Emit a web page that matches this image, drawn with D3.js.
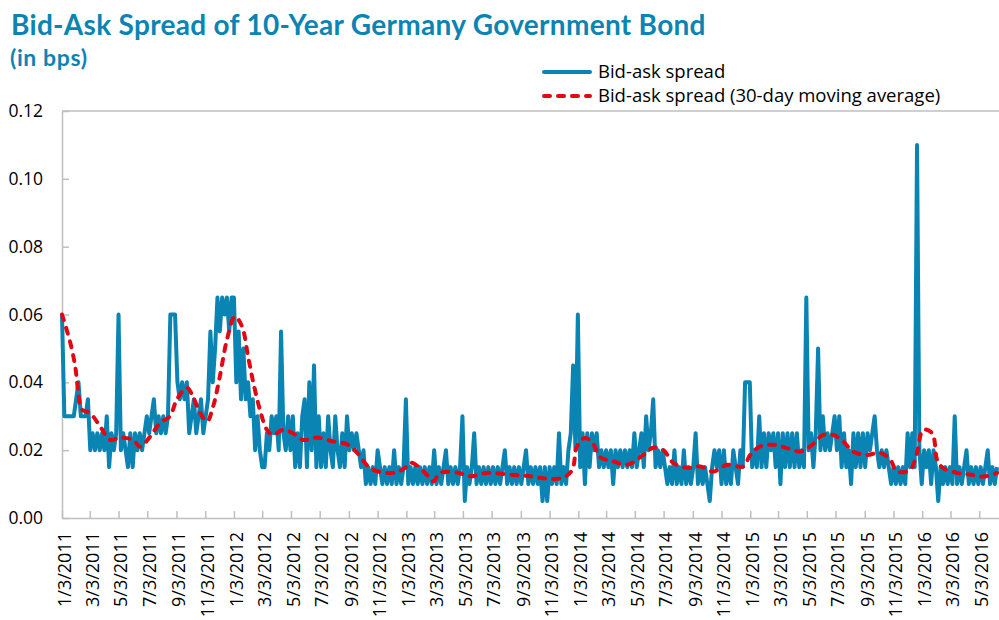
<html lang="en">
<head>
<meta charset="UTF-8">
<title>Bid-Ask Spread of 10-Year Germany Government Bond</title>
<script src="https://d3js.org/d3.v7.min.js"></script>
<style>
  body { margin: 0; background: #fff; }
  svg { display: block; }
  .title { font-family: Lato, "Open Sans", sans-serif; font-weight: bold; fill: #0b84b3; }
  .tick text, .legend text { font-family: "Open Sans", "Noto Sans", sans-serif; fill: #000; }
</style>
</head>
<body>
<svg width="999" height="620"></svg>
<script>
// daily bid-ask spread, sampled every 5 calendar days from 1/3/2011
const spreadStart = "2011-01-03";
const spreadStep = 5;
const spread2011 = [.06, .03, .03, .03, .03, .03, .035, .04, .03, .03, .03, .035, .02, .025, .02, .025, .02, .025, .02, .03,
  .015, .025, .02, .025, .06, .02, .025, .02, .015, .025, .015, .025, .02, .025, .02, .025, .03, .025, .03, .035,
  .025, .03, .025, .03, .025, .03, .06, .06, .06, .04, .035, .04, .035, .04, .025, .03, .035, .025, .03, .035,
  .025, .03, .035, .055, .04, .05, .065, .055, .065, .06, .065, .055, .065];
const spread2012 = [.065, .04, .055, .035, .05, .035, .04, .03, .035, .02, .03, .02, .015, .015, .025, .02, .03, .025, .03, .02,
  .055, .025, .02, .03, .02, .03, .015, .025, .015, .03, .035, .015, .04, .02, .045, .015, .03, .015, .025, .015,
  .03, .02, .015, .03, .02, .015, .025, .015, .03, .02, .025, .02, .025, .02, .015, .02, .01, .015, .01, .015,
  .01, .02, .015, .01, .015, .01, .015, .01, .02, .01, .015, .01, .015];
const spread2013 = [.035, .01, .015, .01, .015, .01, .015, .01, .015, .01, .015, .01, .02, .01, .015, .01, .015, .02, .01, .015,
  .01, .015, .01, .015, .03, .005, .015, .01, .015, .025, .01, .015, .01, .015, .01, .015, .01, .015, .01, .015,
  .01, .015, .02, .01, .015, .01, .015, .01, .015, .01, .015, .02, .01, .015, .01, .015, .01, .015, .005, .015,
  .005, .015, .01, .015, .01, .025, .01, .015, .01, .02, .025, .045, .02];
const spread2014 = [.06, .015, .025, .01, .025, .015, .025, .02, .025, .015, .02, .015, .02, .015, .02, .01, .02, .015, .02, .015,
  .02, .015, .02, .015, .025, .015, .02, .025, .015, .03, .02, .025, .035, .015, .02, .015, .02, .015, .01, .015,
  .01, .02, .01, .015, .01, .02, .01, .015, .01, .015, .025, .01, .015, .01, .015, .01, .005, .015, .02, .015,
  .02, .01, .02, .01, .015, .01, .02, .015, .01, .02, .015, .04, .04];
const spread2015 = [.04, .015, .02, .015, .03, .015, .025, .015, .025, .02, .025, .015, .025, .01, .025, .015, .025, .015, .025, .015,
  .025, .015, .02, .015, .065, .02, .025, .015, .025, .05, .02, .03, .02, .025, .02, .025, .03, .02, .03, .015,
  .025, .015, .02, .01, .025, .015, .025, .015, .025, .015, .025, .02, .025, .03, .02, .015, .02, .015, .02, .015,
  .01, .015, .01, .015, .01, .015, .01, .025, .015, .025, .015, .11, .02];
const spread2016 = [.01, .02, .015, .02, .01, .02, .015, .005, .015, .01, .015, .01, .015, .01, .03, .01, .015, .01, .015, .02,
  .01, .015, .01, .015, .01, .015, .01, .015, .02, .01, .015, .01, .015];

// 30-day moving average
const maDates = ["2011-01-03", "2011-01-20", "2011-01-31", "2011-02-06", "2011-02-14", "2011-03-03", "2011-03-25", "2011-04-15",
  "2011-05-06", "2011-06-03", "2011-06-18", "2011-07-09", "2011-07-30", "2011-08-20", "2011-09-04", "2011-09-25",
  "2011-10-08", "2011-10-23", "2011-11-07", "2011-11-20", "2011-12-04", "2011-12-19", "2012-01-05", "2012-01-20",
  "2012-02-02", "2012-02-13", "2012-02-27", "2012-03-13", "2012-03-26", "2012-04-16", "2012-05-07", "2012-05-29",
  "2012-06-27", "2012-07-31", "2012-09-01", "2012-09-22", "2012-10-14", "2012-11-04", "2012-12-10", "2012-12-31",
  "2013-01-13", "2013-02-12", "2013-03-01", "2013-03-16", "2013-04-21", "2013-05-18", "2013-06-23", "2013-08-11",
  "2013-09-23", "2013-10-29", "2013-12-02", "2013-12-21", "2013-12-31", "2014-01-17", "2014-02-03", "2014-02-18",
  "2014-03-18", "2014-04-17", "2014-05-21", "2014-06-11", "2014-07-02", "2014-07-23", "2014-08-22", "2014-09-19",
  "2014-10-16", "2014-11-15", "2014-12-19", "2015-01-03", "2015-01-24", "2015-02-21", "2015-03-22", "2015-04-19",
  "2015-05-10", "2015-06-07", "2015-06-28", "2015-07-19", "2015-08-09", "2015-09-08", "2015-10-06", "2015-10-27",
  "2015-11-11", "2015-12-08", "2015-12-23", "2016-01-05", "2016-01-24", "2016-02-04", "2016-02-16", "2016-03-17",
  "2016-04-14", "2016-05-11", "2016-06-10"];
const maValues = [.06, .052, .0447, .0378, .032, .031, .027, .023,
  .0237, .023, .021, .024, .028, .030, .035, .0384,
  .0358, .031, .0285, .033, .0417, .0525, .0594, .0565,
  .0476, .040, .032, .026, .0245, .026, .025, .023,
  .0237, .0226, .0216, .019, .0152, .0137, .0134, .0148,
  .0163, .0133, .0108, .0133, .0134, .0123, .0133, .0128,
  .0123, .0116, .0119, .0142, .021, .0236, .022, .018,
  .0167, .0157, .0186, .0207, .0201, .0163, .0148, .0152,
  .0137, .0157, .0152, .0186, .0211, .0216, .0206, .0196,
  .0211, .0245, .0245, .0226, .0196, .0186, .0192, .0172,
  .0137, .0142, .0192, .026, .025, .017, .0148, .0133,
  .0128, .0122, .0133];

const xTickLabels = ["1/3/2011", "3/3/2011", "5/3/2011", "7/3/2011", "9/3/2011", "11/3/2011",
  "1/3/2012", "3/3/2012", "5/3/2012", "7/3/2012", "9/3/2012", "11/3/2012",
  "1/3/2013", "3/3/2013", "5/3/2013", "7/3/2013", "9/3/2013", "11/3/2013",
  "1/3/2014", "3/3/2014", "5/3/2014", "7/3/2014", "9/3/2014", "11/3/2014",
  "1/3/2015", "3/3/2015", "5/3/2015", "7/3/2015", "9/3/2015", "11/3/2015",
  "1/3/2016", "3/3/2016", "5/3/2016"];
const yTicks = [0, 0.02, 0.04, 0.06, 0.08, 0.10, 0.12];

const parseIso = d3.timeParse("%Y-%m-%d");
const parseLabel = d3.timeParse("%m/%d/%Y");

const spreadValues = [].concat(spread2011, spread2012, spread2013, spread2014, spread2015, spread2016);
const t0 = parseIso(spreadStart);
const spreadData = spreadValues.map((v, i) => ({ date: d3.timeDay.offset(t0, i * spreadStep), value: v }));
const maData = maDates.map((d, i) => ({ date: parseIso(d), value: maValues[i] }));

const plotLeft = 62, plotRight = 999, plotTop = 111, plotBottom = 518;
const svg = d3.select("svg");

const x = d3.scaleTime()
  .domain([parseIso("2011-01-03"), parseIso("2016-06-14")])
  .range([plotLeft, plotRight]);
const y = d3.scaleLinear().domain([0, 0.12]).range([plotBottom, plotTop]);

const blue = "#0a84b3", red = "#e30613", grey = "#bfbfbf";

// titles
svg.append("text").attr("class", "title")
  .attr("x", 11).attr("y", 35).style("font-size", "28px").style("letter-spacing", "0.3px")
  .text("Bid-Ask Spread of 10-Year Germany Government Bond");
svg.append("text").attr("class", "title")
  .attr("x", 10).attr("y", 66).style("font-size", "23px").style("letter-spacing", "0.6px")
  .text("(in bps)");

// plot frame top
svg.append("line")
  .attr("x1", plotLeft).attr("x2", plotRight).attr("y1", plotTop).attr("y2", plotTop)
  .attr("stroke", grey).attr("stroke-width", 1.5);

// axes
const yAxis = svg.append("g")
  .attr("transform", `translate(${plotLeft},0)`)
  .call(d3.axisLeft(y).tickValues(yTicks).tickFormat(d3.format(".2f")).tickSizeInner(-7).tickSizeOuter(0).tickPadding(19));
const xAxis = svg.append("g")
  .attr("transform", `translate(0,${plotBottom})`)
  .call(d3.axisBottom(x).tickValues(xTickLabels.map(parseLabel)).tickFormat(d3.timeFormat("%-m/%-d/%Y"))
    .tickSizeInner(-7).tickSizeOuter(0));

[yAxis, xAxis].forEach(g => {
  g.select(".domain").attr("stroke", grey).attr("stroke-width", 1.5);
  g.selectAll(".tick line").attr("stroke", grey).attr("stroke-width", 1.5);
});
yAxis.selectAll(".tick text").style("font-size", "17.5px");
xAxis.selectAll(".tick text")
  .style("font-size", "18px")
  .attr("text-anchor", "end")
  .attr("transform", "rotate(-90)")
  .attr("x", -14).attr("y", 2).attr("dy", "0.35em");

// series
const line = d3.line().x(d => x(d.date)).y(d => y(d.value));
svg.append("path").datum(spreadData)
  .attr("d", line)
  .attr("fill", "none").attr("stroke", blue).attr("stroke-width", 4)
  .attr("stroke-linejoin", "round");

svg.append("path").datum(maData)
  .attr("d", line.curve(d3.curveCatmullRom.alpha(0.5)))
  .attr("fill", "none").attr("stroke", red).attr("stroke-width", 4)
  .attr("stroke-dasharray", "6,8").attr("stroke-linecap", "round");

// legend
const legend = svg.append("g").attr("class", "legend");
const legendItems = [
  { label: "Bid-ask spread", color: blue, dash: null, y: 72 },
  { label: "Bid-ask spread (30-day moving average)", color: red, dash: "6,8", y: 96 }
];
legendItems.forEach(it => {
  legend.append("line")
    .attr("x1", 544).attr("x2", 590).attr("y1", it.y).attr("y2", it.y)
    .attr("stroke", it.color).attr("stroke-width", 4)
    .attr("stroke-linecap", "round")
    .attr("stroke-dasharray", it.dash);
  legend.append("text")
    .attr("x", 598).attr("y", it.y).attr("dy", "0.35em")
    .style("font-size", "18.5px")
    .text(it.label);
});
</script>
</body>
</html>
